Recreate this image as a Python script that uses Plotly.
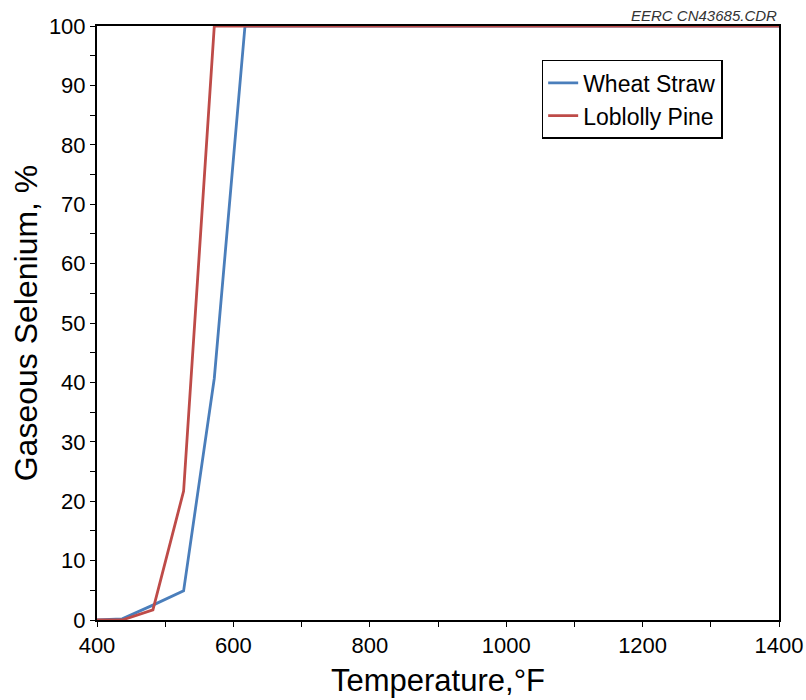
import plotly.graph_objects as go

temps = [392, 437, 482, 527, 572, 617, 1400]
wheat_straw = [0, 0.2, 2.5, 4.9, 40.7, 100, 100]
loblolly_pine = [0, 0, 1.7, 21.7, 100, 100, 100]

font = "Liberation Sans, Arial, sans-serif"

fig = go.Figure()
fig.add_trace(go.Scatter(x=temps, y=wheat_straw, mode="lines", name="Wheat Straw",
                         line=dict(color="#4a7ebb", width=2.8)))
fig.add_trace(go.Scatter(x=temps, y=loblolly_pine, mode="lines", name="Loblolly Pine",
                         line=dict(color="#be4b48", width=2.8)))

axis_common = dict(showline=True, linecolor="black", linewidth=2, mirror=True,
                   ticks="outside", ticklen=5, tickwidth=1, tickcolor="black",
                   showgrid=False, zeroline=False, layer="below traces", automargin=False,
                   tickfont=dict(family=font, size=22, color="black"))

fig.update_xaxes(range=[400, 1400], dtick=200, tick0=400,
                 minor=dict(dtick=100, ticks="outside", ticklen=5, tickcolor="black"),
                 title=dict(text="Temperature,°F", font=dict(family=font, size=31, color="black"),
                            standoff=12),
                 **axis_common)
fig.update_yaxes(range=[0, 100], dtick=10,
                 minor=dict(dtick=5, ticks="outside", ticklen=5, tickcolor="black"),
                 title=dict(text="Gaseous Selenium, %", font=dict(family=font, size=32, color="black"),
                            standoff=2),
                 **axis_common)

fig.add_annotation(text="<i>EERC CN43685.CDR</i>", xref="paper", yref="paper",
                   x=1.0, y=1.0, xanchor="right", yanchor="bottom", yshift=0,
                   showarrow=False, font=dict(family=font, size=15, color="#333"))

fig.update_layout(
    width=806, height=700,
    margin=dict(l=97, r=27, t=26, b=80),
    paper_bgcolor="white", plot_bgcolor="white",
    legend=dict(x=0.652, y=0.943, xanchor="left", yanchor="top",
                bordercolor="black", borderwidth=1.5, bgcolor="white",
                font=dict(family=font, size=23, color="black"),
                itemwidth=30, tracegroupgap=2),
    showlegend=True,
)

fig.write_html("out.html")
